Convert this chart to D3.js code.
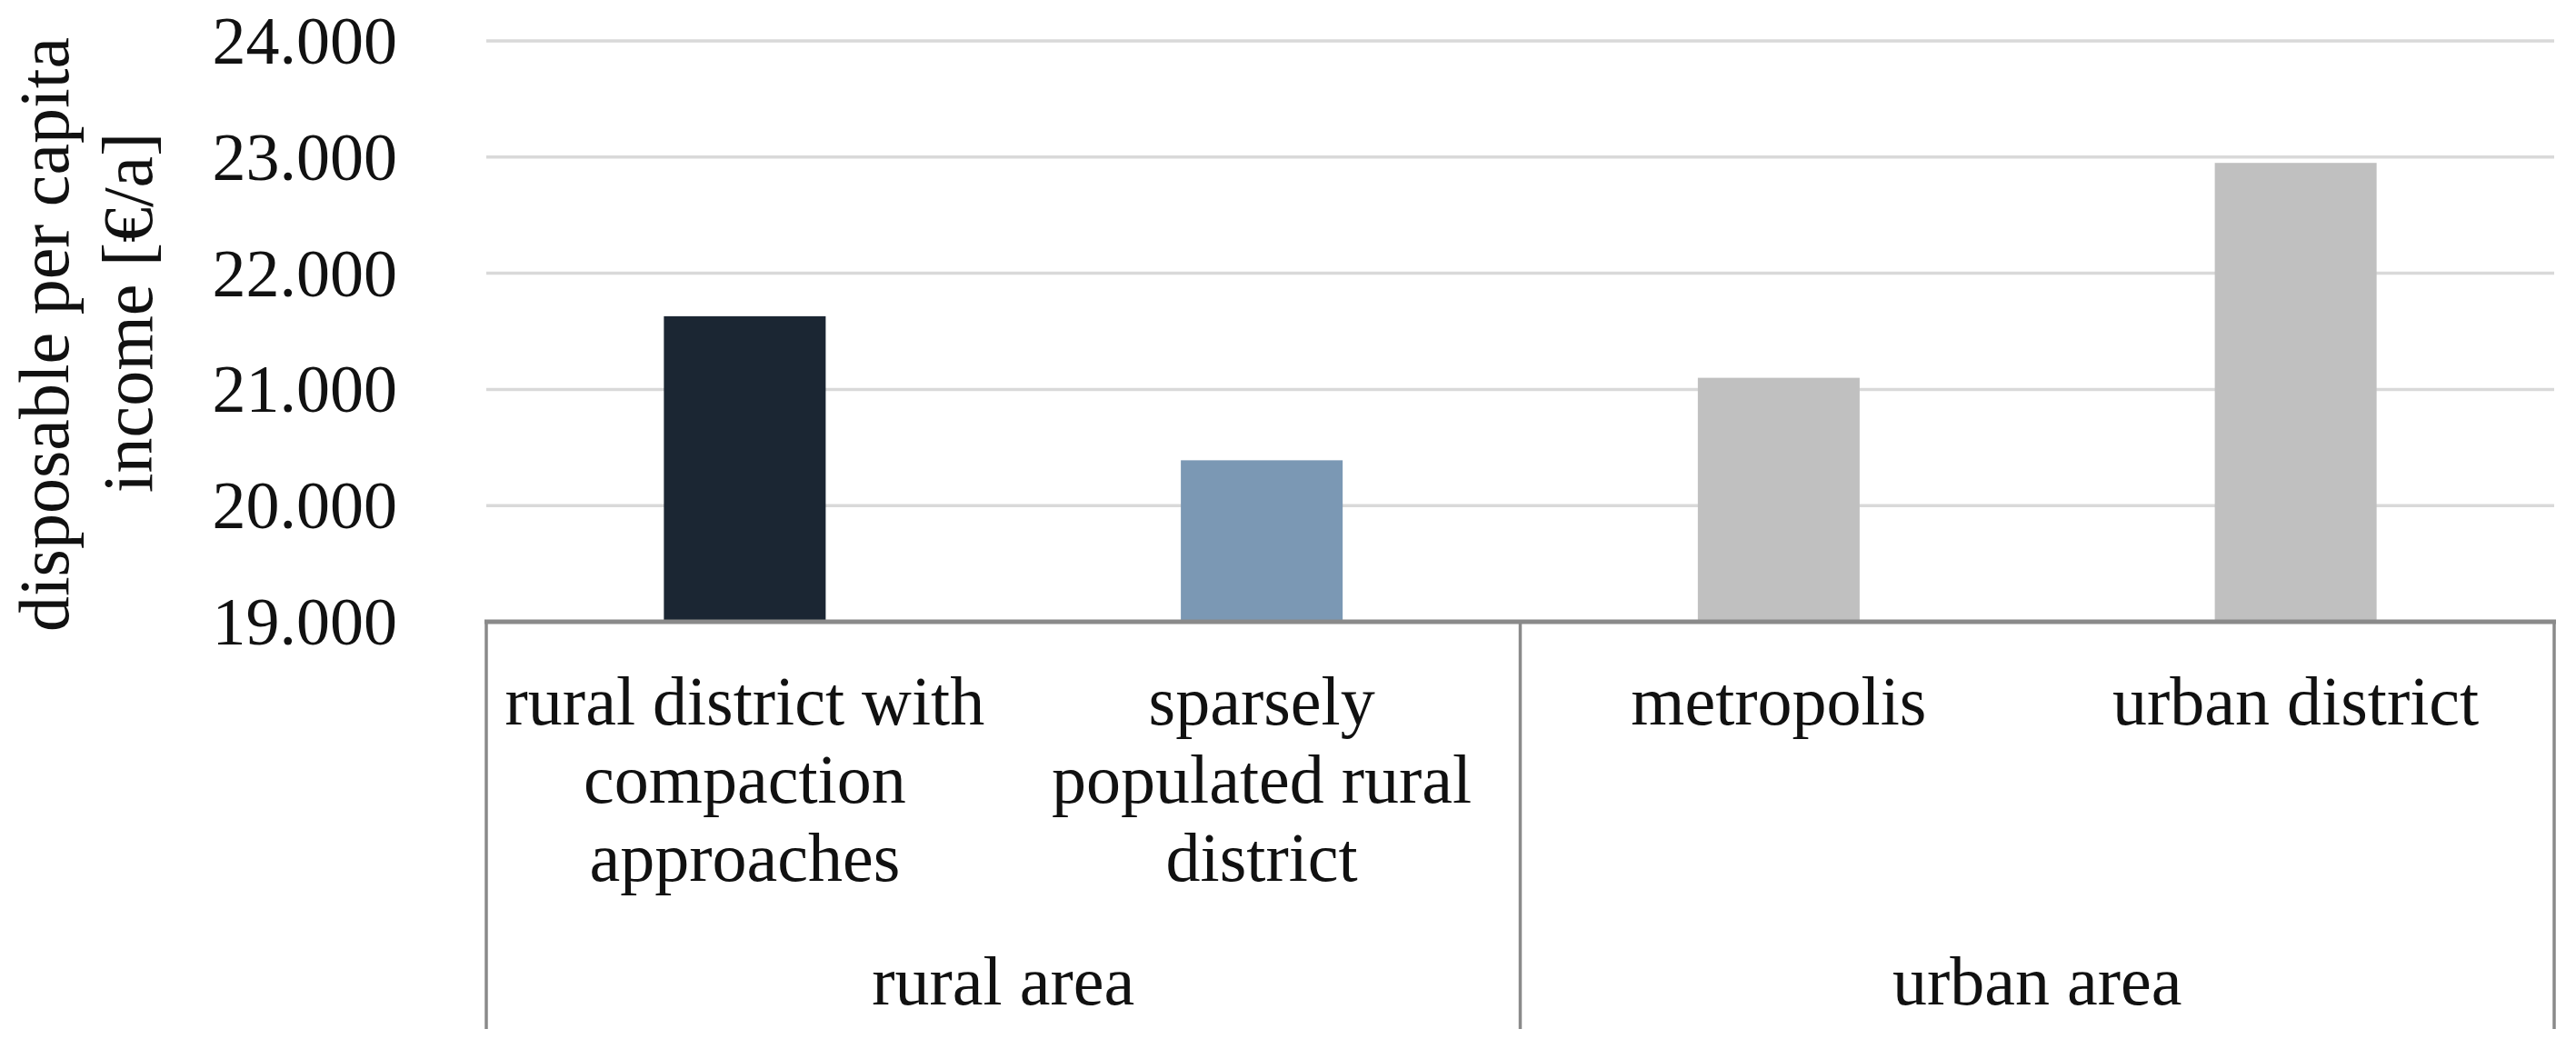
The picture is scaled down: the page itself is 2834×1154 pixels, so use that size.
<!DOCTYPE html>
<html>
<head>
<meta charset="utf-8">
<script src="https://cdn.jsdelivr.net/npm/d3@7"></script>
<style>
  html, body { margin: 0; padding: 0; background: #ffffff; }
  svg { display: block; }
  text { font-family: "Liberation Serif", "Times New Roman", serif; fill: #111111; }
</style>
</head>
<body>
<svg id="chart" width="2834" height="1154"></svg>
<script>
// ---- data ----
const categories = ["rural district with compaction approaches", "sparsely populated rural district", "metropolis", "urban district"];
const categoryLines = [["rural district with", "compaction", "approaches"], ["sparsely", "populated rural", "district"], ["metropolis"], ["urban district"]];
const values = [21630, 20390, 21100, 22950];
const barColors = ["#1b2633", "#7b98b4", "#c0c0c0", "#c0c0c0"];
const groups = ["rural area", "urban area"];
const groupMembers = [[0, 1], [2, 3]];
const yTicks = [19000, 20000, 21000, 22000, 23000, 24000];
const yTitleLines = ["disposable per capita", "income [€/a]"];

// ---- layout ----
const W = 2834, H = 1154;
const plotLeft = 535, plotRight = 2810, plotTop = 45, plotBase = 684, boxBottom = 1132;

const svg = d3.select("#chart");
svg.append("rect").attr("width", W).attr("height", H).attr("fill", "#ffffff");

const x = d3.scaleBand().domain(categories).range([plotLeft, plotRight]).padding(0);
const y = d3.scaleLinear().domain([19000, 24000]).range([plotBase, plotTop]);
const de = d3.formatLocale({ decimal: ",", thousands: ".", grouping: [3], currency: ["", "€"] });
const fmt = de.format(",");

// gridlines
svg.append("g").selectAll("line")
  .data(yTicks.filter(d => d > 19000))
  .join("line")
  .attr("x1", plotLeft).attr("x2", plotRight)
  .attr("y1", d => y(d)).attr("y2", d => y(d))
  .attr("stroke", "#d9d9d9").attr("stroke-width", 3.5);

// y axis tick labels
const yAxis = d3.axisLeft(y).tickValues(yTicks).tickFormat(fmt).tickSize(0).tickPadding(0);
const gy = svg.append("g").attr("transform", `translate(437,0)`).call(yAxis);
gy.select(".domain").remove();
gy.selectAll("text")
  .attr("font-size", 74)
  .attr("font-family", "Liberation Serif, serif")
  .attr("fill", "#111111")
  .attr("dy", "0.33em");

// bars
const barW = x.bandwidth() * 0.313;
svg.append("g").selectAll("rect")
  .data(values)
  .join("rect")
  .attr("x", (d, i) => x(categories[i]) + x.bandwidth() / 2 - barW / 2)
  .attr("width", barW)
  .attr("y", d => y(d))
  .attr("height", d => y(19000) - y(d) - 2)
  .attr("fill", (d, i) => barColors[i]);

// category box (axis line + separators)
const sepX = [plotLeft, x(categories[2]), plotRight];
svg.append("line")
  .attr("x1", plotLeft - 2).attr("x2", plotRight + 2)
  .attr("y1", plotBase).attr("y2", plotBase)
  .attr("stroke", "#8a8a8a").attr("stroke-width", 5);
svg.append("g").selectAll("line")
  .data(sepX)
  .join("line")
  .attr("x1", d => d).attr("x2", d => d)
  .attr("y1", plotBase).attr("y2", boxBottom)
  .attr("stroke", "#8a8a8a").attr("stroke-width", 3.5);

// category labels
const lineH = 86;
const catG = svg.append("g");
categories.forEach((c, i) => {
  const cx = x(c) + x.bandwidth() / 2;
  const t = catG.append("text")
    .attr("text-anchor", "middle")
    .attr("font-size", 76);
  categoryLines[i].forEach((ln, j) => {
    t.append("tspan").attr("x", cx).attr("y", 797 + j * lineH).text(ln);
  });
});

// group labels
groups.forEach((g, gi) => {
  const m = groupMembers[gi];
  const x0 = x(categories[m[0]]);
  const x1 = x(categories[m[m.length - 1]]) + x.bandwidth();
  svg.append("text")
    .attr("x", (x0 + x1) / 2).attr("y", 1105)
    .attr("text-anchor", "middle")
    .attr("font-size", 76)
    .text(g);
});

// y-axis title (two lines)
const titleCenters = [368, 344];
const titleBaselines = [75, 167];
yTitleLines.forEach((ln, i) => {
  svg.append("text")
    .attr("transform", `translate(${titleBaselines[i]},${titleCenters[i]}) rotate(-90)`)
    .attr("text-anchor", "middle")
    .attr("font-size", 78)
    .text(ln);
});
</script>
</body>
</html>
